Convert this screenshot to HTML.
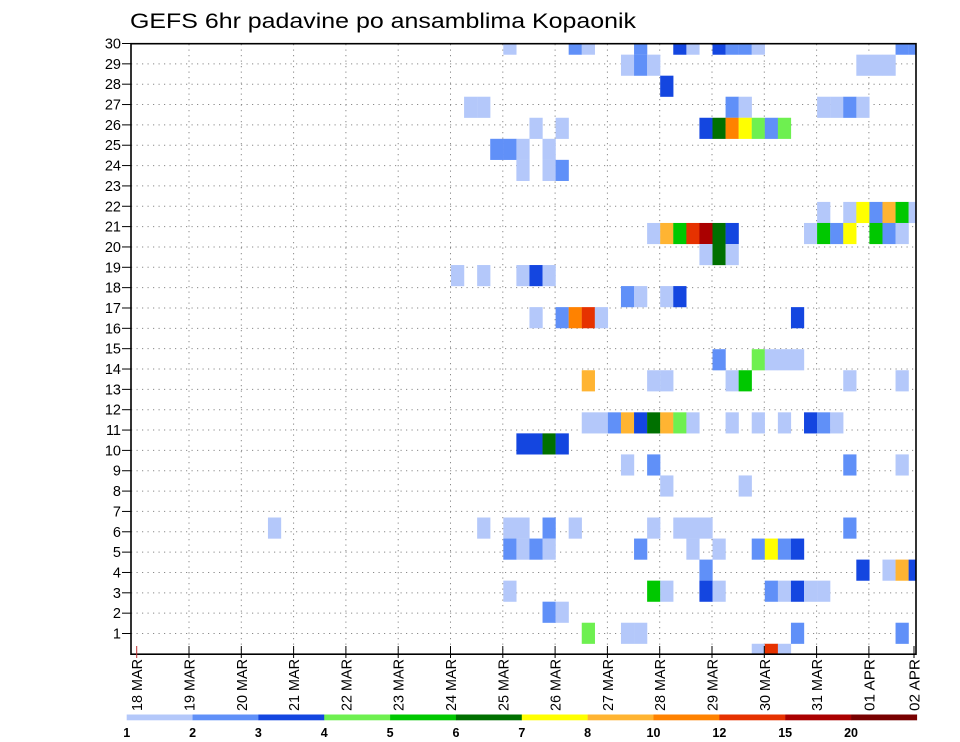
<!DOCTYPE html>
<html><head><meta charset="utf-8"><title>GEFS 6hr padavine po ansamblima Kopaonik</title>
<style>html,body{margin:0;padding:0;background:#fff;}svg{display:block;font-family:"Liberation Sans",sans-serif;}</style>
</head><body>
<svg id="chart" width="960" height="742" viewBox="0 0 960 742" xmlns="http://www.w3.org/2000/svg">
<defs><clipPath id="plotclip"><rect x="131" y="43.7" width="785" height="610.5"/></clipPath></defs>
<text x="130" y="28" font-size="21" textLength="506" lengthAdjust="spacingAndGlyphs" fill="#000">GEFS 6hr padavine po ansamblima Kopaonik</text>
<g id="grid"></g>
<g id="cells" clip-path="url(#plotclip)"></g>
<rect x="131" y="43.7" width="785" height="610.5" fill="none" stroke="#000" stroke-width="1.6"/>
<g id="yaxis"></g>
<g id="xaxis"></g>
<g id="legend"></g>
</svg>
<script>
// ---- data ----
const dayLabels = ["18 MAR","19 MAR","20 MAR","21 MAR","22 MAR","23 MAR","24 MAR","25 MAR","26 MAR","27 MAR","28 MAR","29 MAR","30 MAR","31 MAR","01 APR","02 APR"];
const memberTicks = [1,2,3,4,5,6,7,8,9,10,11,12,13,14,15,16,17,18,19,20,21,22,23,24,25,26,27,28,29,30];
const legendLevels = [1,2,3,4,5,6,7,8,10,12,15,20];
const legendColors = ["#b4c8fa","#6090f8","#1446e0","#6ef050","#00c800","#007000","#ffff00","#ffb432","#ff8200","#e63200","#aa0000","#780000"];
// cells: member (ensemble band), 6-hour step index from 18 MAR 00Z, precipitation value
const cellMember = [
30,30,30,30,30,30,30,30,30,30,30,30,
29,29,29,29,29,29,
28,
27,27,27,27,27,27,27,27,
26,26,26,26,26,26,26,26,26,
25,25,25,25,
24,24,24,
22,22,22,22,22,22,22,
21,21,21,21,21,21,21,21,21,21,21,21,21,21,
20,20,20,
19,19,19,19,19,
18,18,18,18,
17,17,17,17,17,17,
15,15,15,15,15,
14,14,14,14,14,14,14,
12,12,12,12,12,12,12,12,12,12,12,12,12,12,12,
11,11,11,11,
10,10,10,10,
9,9,
7,7,7,7,7,7,7,7,7,7,7,
6,6,6,6,6,6,6,6,6,6,6,
5,5,5,5,5,
4,4,4,4,4,4,4,4,4,4,
3,3,
2,2,2,2,2,
1,1,1];
const cellStep = [
28,33,34,38,41,42,44,45,46,47,58,59,
37,38,39,55,56,57,
40,
25,26,45,46,52,53,54,55,
30,32,43,44,45,46,47,48,49,
27,28,29,31,
29,31,32,
52,54,55,56,57,58,59,
39,40,41,42,43,44,45,51,52,53,54,56,57,58,
43,44,45,
24,26,29,30,31,
37,38,40,41,
30,32,33,34,35,50,
44,47,48,49,50,
34,39,40,45,46,54,58,
34,35,36,37,38,39,40,41,42,45,47,49,51,52,53,
29,30,31,32,
37,39,54,58,
40,46,
10,26,28,29,31,33,39,41,42,43,54,
28,29,30,31,38,42,44,47,48,49,50,
43,55,57,58,59,
28,39,40,43,44,48,49,50,51,52,
31,32,
34,37,38,50,58,
47,48,49];
const cellValue = [
1.5,2.5,1.5,2.5,3.5,1.5,3.5,2.5,2.5,1.5,2.5,2.5,
1.5,2.5,1.5,1.5,1.5,1.5,
3.5,
1.5,1.5,2.5,1.5,1.5,1.5,2.5,1.5,
1.5,1.5,3.5,6.5,11,7.5,4.5,2.5,4.5,
2.5,2.5,1.5,1.5,
1.5,1.5,2.5,
1.5,1.5,7.5,2.5,9,5.5,1.5,
1.5,9,5.5,13.5,17,6.5,3.5,1.5,5.5,2.5,7.5,5.5,2.5,1.5,
1.5,6.5,1.5,
1.5,1.5,1.5,3.5,1.5,
2.5,1.5,1.5,3.5,
1.5,2.5,11,13.5,1.5,3.5,
2.5,4.5,1.5,1.5,1.5,
9,1.5,1.5,1.5,5.5,1.5,1.5,
1.5,1.5,2.5,9,3.5,6.5,9,4.5,1.5,1.5,1.5,1.5,3.5,2.5,1.5,
3.5,3.5,6.5,3.5,
1.5,2.5,2.5,1.5,
1.5,1.5,
1.5,1.5,1.5,1.5,2.5,1.5,1.5,1.5,1.5,1.5,2.5,
2.5,1.5,2.5,1.5,2.5,1.5,1.5,2.5,7.5,2.5,3.5,
2.5,3.5,1.5,9,3.5,
1.5,5.5,1.5,3.5,1.5,2.5,1.5,3.5,1.5,1.5,
2.5,1.5,
4.5,1.5,1.5,2.5,2.5,
1.5,13.5,1.5];

// ---- scales ----
const NS = "http://www.w3.org/2000/svg";
const X0 = 136.7, DAYW = 52.3, STEPW = DAYW / 4;
function xDay(d) { return X0 + DAYW * d; }
function xStep(s) { return X0 + 0.5 + STEPW * s; }
const BAND_TOP = 33.6, BAND_H = 21.04;
function yMember(m) { return BAND_TOP + (30 - m) * BAND_H; }
function yTick(v) { return 43.5 + (30 - v) * 20.345; }
function colorFor(v) {
  let idx = 0;
  for (let i = 0; i < legendLevels.length; i++) if (v >= legendLevels[i]) idx = i;
  return legendColors[idx];
}
function mk(tag, attrs, parent) {
  const e = document.createElementNS(NS, tag);
  for (const k in attrs) e.setAttribute(k, attrs[k]);
  parent.appendChild(e);
  return e;
}

// ---- grid ----
const grid = document.getElementById("grid");
for (let i = 0; i < memberTicks.length; i++) {
  const v = memberTicks[i];
  if (v === 30) continue;
  const y = yTick(v);
  const ln = mk("line", {x1: 131, x2: 916, y1: y, y2: y, stroke: "#8a8a8a", "stroke-width": 1, "stroke-dasharray": "1.2 4.3"}, grid);
  
  
}
for (let d = 1; d < dayLabels.length; d++) {
  const x = xDay(d);
  if (x > 915) continue;
  const ln = mk("line", {x1: x, x2: x, y1: 44, y2: 654, stroke: "#8a8a8a", "stroke-width": 1, "stroke-dasharray": "1.2 4.3"}, grid);
  
  
}

// ---- cells ----
const cells = document.getElementById("cells");
for (let i = 0; i < cellValue.length; i++) {
  const r = mk("rect", {x: xStep(cellStep[i]), y: yMember(cellMember[i]), width: STEPW + 0.15, height: BAND_H + 0.1, fill: colorFor(cellValue[i])}, cells);
  
  
}

// ---- y axis ----
const yax = document.getElementById("yaxis");
for (let i = 0; i < memberTicks.length; i++) {
  const v = memberTicks[i];
  const y = yTick(v);
  const t = mk("line", {x1: 122, x2: 131, y1: y, y2: y, stroke: "#000", "stroke-width": 1}, yax);
  
  
  const tx = mk("text", {x: 121, y: y + 5, "font-size": 14.5, "text-anchor": "end", fill: "#000"}, yax);
  tx.textContent = String(v);
  
  
}

// ---- x axis ----
const xax = document.getElementById("xaxis");
for (let d = 0; d < dayLabels.length; d++) {
  let x = xDay(d);
  if (x > 914) x = 914;
  const t = mk("line", {x1: x, x2: x, y1: 646, y2: 658, stroke: d === 0 ? "#c03030" : "#000", "stroke-width": 1}, xax);
  
  
  const tx = mk("text", {x: 0, y: 0, "font-size": 15, "text-anchor": "end", textLength: 52, lengthAdjust: "spacingAndGlyphs", fill: "#000", transform: "translate(" + (x + 5.5) + ",659) rotate(-90)"}, xax);
  tx.textContent = dayLabels[d];
  
  
}

// ---- legend ----
const leg = document.getElementById("legend");
const LX = 126.7, LW = 65.85;
for (let i = 0; i < legendColors.length; i++) {
  const r = mk("rect", {x: LX + i * LW, y: 714.5, width: LW + 0.2, height: 5.8, fill: legendColors[i]}, leg);
  
  
  const tx = mk("text", {x: LX + i * LW, y: 737, "font-size": 12.5, "font-weight": "bold", "text-anchor": "middle", fill: "#000"}, leg);
  tx.textContent = String(legendLevels[i]);
  
  
}
</script>
</body></html>
